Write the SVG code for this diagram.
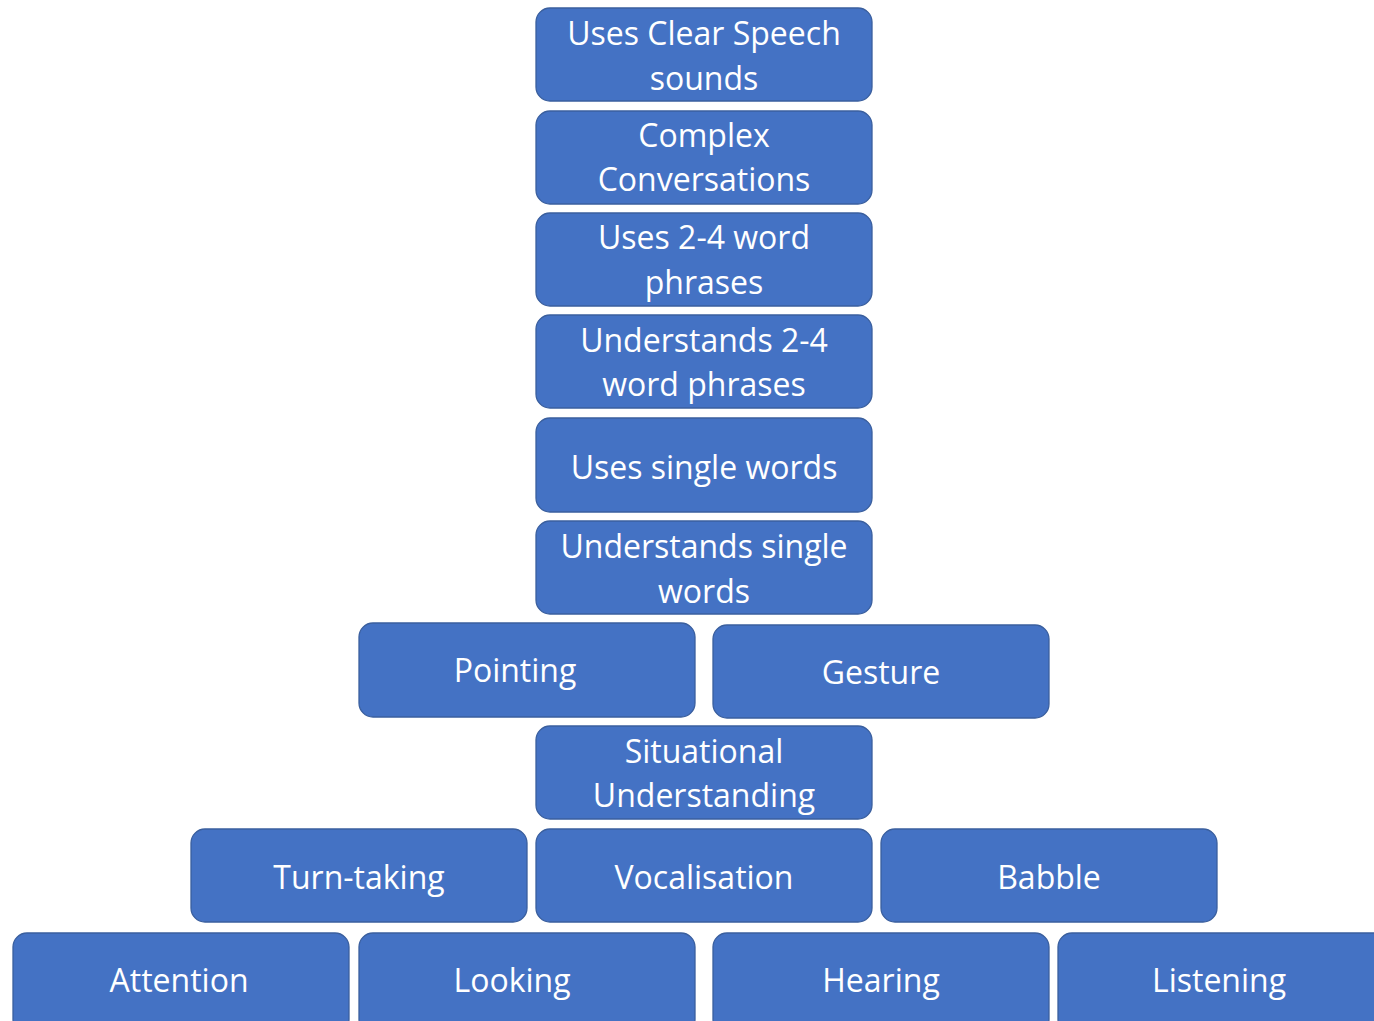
<svg xmlns="http://www.w3.org/2000/svg" width="1374" height="1021" viewBox="0 0 1374 1021">
<style>
.b{fill:#4472C4;stroke:#3A5F9E;stroke-width:1.3}
.t{fill:#FFFFFF;font-family:"Open Sans","Noto Sans","Liberation Sans",sans-serif;font-size:32px;text-anchor:middle}
</style>
<rect width="1374" height="1021" fill="#FFFFFF"/>
<g id="connectors"/>
<g id="n1"><rect class="b" x="536" y="8" width="336" height="93" rx="14"/><text class="t" x="704" y="45">Uses Clear Speech</text><text class="t" x="704" y="90">sounds</text></g>
<g id="n2"><rect class="b" x="536" y="111" width="336" height="93" rx="14"/><text class="t" x="704" y="147">Complex</text><text class="t" x="704" y="191">Conversations</text></g>
<g id="n3"><rect class="b" x="536" y="213" width="336" height="93" rx="14"/><text class="t" x="704" y="249">Uses 2-4 word</text><text class="t" x="704" y="294">phrases</text></g>
<g id="n4"><rect class="b" x="536" y="315" width="336" height="93" rx="14"/><text class="t" x="704" y="352">Understands 2-4</text><text class="t" x="704" y="396">word phrases</text></g>
<g id="n5"><rect class="b" x="536" y="418" width="336" height="94" rx="14"/><text class="t" x="704" y="479">Uses single words</text></g>
<g id="n6"><rect class="b" x="536" y="521" width="336" height="93" rx="14"/><text class="t" x="704" y="558">Understands single</text><text class="t" x="704" y="603">words</text></g>
<g id="n7"><rect class="b" x="359" y="623" width="336" height="94" rx="14"/><text class="t" x="515" y="682">Pointing</text></g>
<g id="n8"><rect class="b" x="713" y="625" width="336" height="93" rx="14"/><text class="t" x="881" y="684">Gesture</text></g>
<g id="n9"><rect class="b" x="536" y="726" width="336" height="93" rx="14"/><text class="t" x="704" y="763">Situational</text><text class="t" x="704" y="807">Understanding</text></g>
<g id="n10"><rect class="b" x="191" y="829" width="336" height="93" rx="14"/><text class="t" x="359" y="889">Turn-taking</text></g>
<g id="n11"><rect class="b" x="536" y="829" width="336" height="93" rx="14"/><text class="t" x="704" y="889">Vocalisation</text></g>
<g id="n12"><rect class="b" x="881" y="829" width="336" height="93" rx="14"/><text class="t" x="1049" y="889">Babble</text></g>
<g id="n13"><rect class="b" x="13" y="933" width="336" height="100" rx="14"/><text class="t" x="179" y="992">Attention</text></g>
<g id="n14"><rect class="b" x="359" y="933" width="336" height="100" rx="14"/><text class="t" x="512" y="992">Looking</text></g>
<g id="n15"><rect class="b" x="713" y="933" width="336" height="100" rx="14"/><text class="t" x="881" y="992">Hearing</text></g>
<g id="n16"><rect class="b" x="1058" y="933" width="336" height="100" rx="14"/><text class="t" x="1219" y="992">Listening</text></g>
</svg>
